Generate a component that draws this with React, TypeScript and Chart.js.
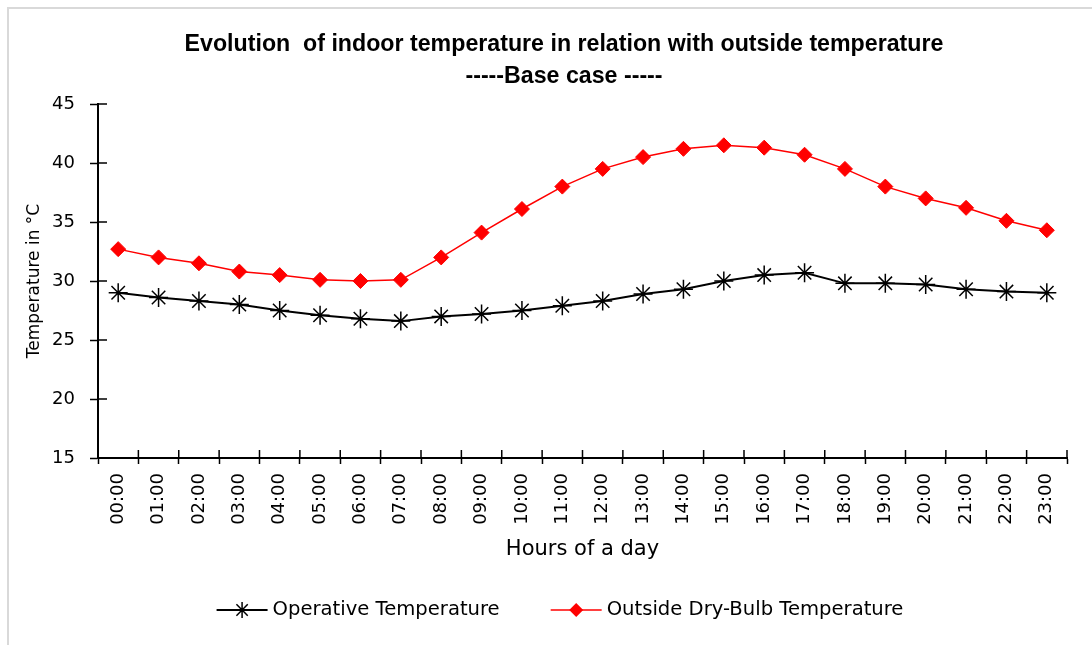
import { useEffect, useRef } from 'react';
import { Chart, registerables } from 'chart.js';

Chart.register(...registerables);

const hours = [
  '00:00', '01:00', '02:00', '03:00', '04:00', '05:00', '06:00', '07:00',
  '08:00', '09:00', '10:00', '11:00', '12:00', '13:00', '14:00', '15:00',
  '16:00', '17:00', '18:00', '19:00', '20:00', '21:00', '22:00', '23:00',
];
const operativeTemp = [
  29.0, 28.6, 28.3, 28.0, 27.5, 27.1, 26.8, 26.6, 27.0, 27.2, 27.5, 27.9,
  28.3, 28.9, 29.3, 30.0, 30.5, 30.7, 29.8, 29.8, 29.7, 29.3, 29.1, 29.0,
];
const outsideTemp = [
  32.7, 32.0, 31.5, 30.8, 30.5, 30.1, 30.0, 30.1, 32.0, 34.1, 36.1, 38.0,
  39.5, 40.5, 41.2, 41.5, 41.3, 40.7, 39.5, 38.0, 37.0, 36.2, 35.1, 34.3,
];
const seriesNames = ['Operative Temperature', 'Outside Dry-Bulb Temperature'];
const titleLines = [
  'Evolution  of indoor temperature in relation with outside temperature',
  '-----Base case -----',
];
const yAxisTitle = 'Temperature in °C';
const xAxisTitle = 'Hours of a day';
const yMin = 15;
const yMax = 45;
const yStep = 5;

const FONT = '"DejaVu Sans", sans-serif';
const TITLE_FONT = 'bold 23.2px "Liberation Sans", Arial, sans-serif';

function drawMarker(ctx: CanvasRenderingContext2D, style: string, x: number, y: number, r: number, color: string) {
  ctx.save();
  ctx.strokeStyle = color;
  ctx.fillStyle = color;
  if (style === 'star') {
    ctx.lineWidth = 1.5;
    ctx.beginPath();
    ctx.moveTo(x, y - r); ctx.lineTo(x, y + r);
    ctx.moveTo(x - r, y); ctx.lineTo(x + r, y);
    const d = r * Math.SQRT1_2;
    ctx.moveTo(x - d, y - d); ctx.lineTo(x + d, y + d);
    ctx.moveTo(x - d, y + d); ctx.lineTo(x + d, y - d);
    ctx.stroke();
  } else {
    ctx.beginPath();
    ctx.moveTo(x, y - r); ctx.lineTo(x + r, y); ctx.lineTo(x, y + r); ctx.lineTo(x - r, y);
    ctx.closePath();
    ctx.fill();
  }
  ctx.restore();
}

const framePlugin = {
  id: 'frame',
  beforeDraw(chart: any) {
    const ctx = chart.ctx;
    ctx.save();
    ctx.fillStyle = '#ffffff';
    ctx.fillRect(0, 0, chart.width, chart.height);
    ctx.strokeStyle = '#d9d9d9';
    ctx.lineWidth = 2;
    ctx.beginPath();
    ctx.moveTo(8, chart.height);
    ctx.lineTo(8, 8);
    ctx.lineTo(chart.width, 8);
    ctx.stroke();
    ctx.restore();
  },
};

const titlePlugin = {
  id: 'customTitle',
  afterDraw(chart: any) {
    const ctx = chart.ctx;
    ctx.save();
    ctx.font = TITLE_FONT;
    ctx.fillStyle = '#000';
    ctx.textAlign = 'center';
    ctx.textBaseline = 'middle';
    const cx = chart.width / 2 + 18;
    titleLines.forEach((line, i) => ctx.fillText(line, cx, 45 + i * 32));
    ctx.restore();
  },
};

const innerTicksPlugin = {
  id: 'innerTicks',
  afterDraw(chart: any) {
    const ctx = chart.ctx;
    const xs = chart.scales.x;
    const ys = chart.scales.y;
    ctx.save();
    ctx.strokeStyle = '#000';
    ctx.lineWidth = 1.5;
    ctx.beginPath();
    ys.ticks.forEach((t: any) => {
      const py = ys.getPixelForValue(t.value);
      ctx.moveTo(ys.right, py);
      ctx.lineTo(ys.right + 9, py);
    });
    const n = xs.ticks.length;
    for (let i = 0; i <= n; i++) {
      const px = xs.left + (i * xs.width) / n;
      ctx.moveTo(px, xs.top - 8);
      ctx.lineTo(px, xs.top);
    }
    ctx.stroke();
    ctx.restore();
  },
};

const legendPlugin = {
  id: 'customLegend',
  afterDraw(chart: any) {
    const ctx = chart.ctx;
    ctx.save();
    ctx.font = `19.6px ${FONT}`;
    ctx.textBaseline = 'middle';
    ctx.textAlign = 'left';
    const lineLen = 51;
    const textGap = 5;
    const itemGap = 51;
    const items = chart.data.datasets.map((ds: any) => ({
      label: ds.label,
      color: ds.borderColor,
      style: ds.pointStyle,
      r: ds.pointStyle === 'star' ? 8 : 7,
      w: lineLen + textGap + ctx.measureText(ds.label).width,
    }));
    const total = items.reduce((s: number, it: any) => s + it.w, 0) + itemGap * (items.length - 1);
    let x = chart.width / 2 + 14 - total / 2;
    const y = 610;
    items.forEach((it: any) => {
      ctx.strokeStyle = it.color;
      ctx.lineWidth = it.style === 'star' ? 2 : 1.5;
      ctx.beginPath();
      ctx.moveTo(x, y);
      ctx.lineTo(x + lineLen, y);
      ctx.stroke();
      drawMarker(ctx, it.style, x + lineLen / 2, y, it.r, it.color);
      ctx.fillStyle = '#000';
      ctx.fillText(it.label, x + lineLen + textGap, y);
      x += it.w + itemGap;
    });
    ctx.restore();
  },
};

export default function App() {
  const ref = useRef<HTMLCanvasElement>(null);

  useEffect(() => {
    document.body.style.margin = '0';
    const canvas = ref.current;
    if (!canvas) return;
    const chart = new Chart(canvas, {
      type: 'line',
      data: {
        labels: hours,
        datasets: [
          {
            label: seriesNames[0],
            data: operativeTemp,
            borderColor: '#000000',
            backgroundColor: '#000000',
            borderWidth: 2,
            pointStyle: 'star',
            pointRadius: 9.5,
            pointBorderWidth: 1.5,
            pointBorderColor: '#000000',
            pointBackgroundColor: '#000000',
            tension: 0,
          },
          {
            label: seriesNames[1],
            data: outsideTemp,
            borderColor: '#ff0000',
            backgroundColor: '#ff0000',
            borderWidth: 1.5,
            pointStyle: 'rectRot',
            pointRadius: 7.5,
            pointBorderWidth: 1,
            pointBorderColor: '#ff0000',
            pointBackgroundColor: '#ff0000',
            tension: 0,
          },
        ],
      },
      options: {
        responsive: false,
        animation: false,
        devicePixelRatio: 1,
        layout: { autoPadding: false, padding: { top: 104, left: 16, right: 25, bottom: 83 } },
        plugins: {
          legend: { display: false },
          tooltip: { enabled: false },
          title: { display: false },
        },
        scales: {
          x: {
            type: 'category',
            offset: true,
            afterFit: (scale: any) => { scale.height = 104; },
            grid: {
              display: true,
              offset: true,
              drawOnChartArea: false,
              drawTicks: true,
              tickLength: 6,
              tickWidth: 1.5,
              tickColor: '#000',
            },
            border: { display: true, color: '#000', width: 2 },
            ticks: {
              color: '#000',
              font: { family: FONT, size: 18 },
              minRotation: 90,
              maxRotation: 90,
              autoSkip: false,
              padding: 9,
            },
            title: {
              display: true,
              text: xAxisTitle,
              color: '#000',
              font: { family: FONT, size: 21 },
              padding: { top: 12, bottom: 0 },
            },
          },
          y: {
            min: yMin,
            max: yMax,
            afterFit: (scale: any) => { scale.width = 82; },
            grid: {
              display: true,
              drawOnChartArea: false,
              drawTicks: true,
              tickLength: 8,
              tickWidth: 1.5,
              tickColor: '#000',
            },
            border: { display: true, color: '#000', width: 2 },
            ticks: {
              stepSize: yStep,
              color: '#000',
              font: { family: FONT, size: 18 },
              padding: 15,
            },
            title: {
              display: true,
              text: yAxisTitle,
              color: '#000',
              font: { family: FONT, size: 17 },
              padding: { top: 8, bottom: 8 },
            },
          },
        },
      },
      plugins: [framePlugin, titlePlugin, innerTicksPlugin, legendPlugin],
    });
    return () => chart.destroy();
  }, []);

  return (
    <div style={{ position: 'absolute', left: 0, top: 0, width: 1092, height: 645, background: '#fff' }}>
      <canvas ref={ref} width={1092} height={645} />
    </div>
  );
}
